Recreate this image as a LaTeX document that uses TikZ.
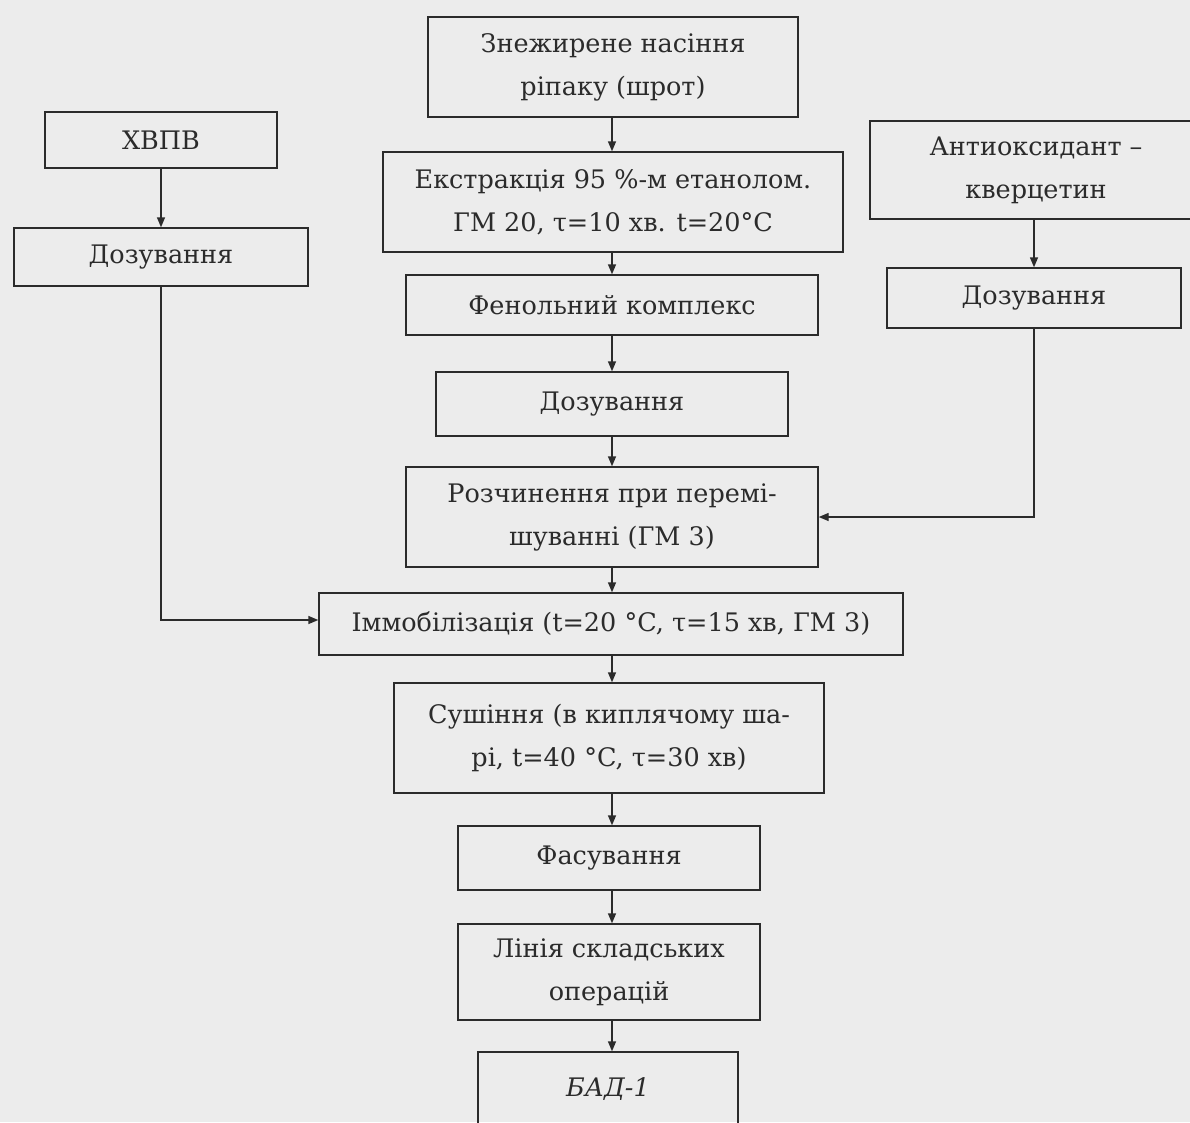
\documentclass[tikz,border=0pt]{standalone}
\usepackage{fontspec}
\setmainfont{DejaVu Serif}
\usetikzlibrary{arrows.meta}
\definecolor{ink}{HTML}{2B2B2B}
\definecolor{paper}{HTML}{ECECEC}
\tikzset{
  box/.style={draw=ink, line width=1.4pt, inner sep=0pt, align=center,
    text=ink, font=\fontsize{25.5}{43}\selectfont},
  arr/.style={draw=ink, line width=1.4pt, -{Triangle[length=10pt,width=8pt]}}
}
\begin{document}
\begin{tikzpicture}[x=1pt,y=-1pt]
\useasboundingbox (0,0) rectangle (1190,1122);
\fill[paper] (0,0) rectangle (1190,1122);
\clip (0,0) rectangle (1190,1122);
\coordinate (col) at (612,0);
% main column
\node[box, minimum width=370pt, minimum height=100pt] (src) at (613,67) {Знежирене насіння\\ріпаку (шрот)};
\node[box, minimum width=460pt, minimum height=100pt] (ext) at (613,202) {Екстракція 95 \%-м етанолом.\\ГМ 20, τ=10 хв. t=20°C};
\node[box, minimum width=412pt, minimum height=60pt] (phen) at (612,305) {Фенольний комплекс};
\node[box, minimum width=352pt, minimum height=64pt] (doz2) at (612,404) {Дозування};
\node[box, minimum width=412pt, minimum height=100pt] (rozch) at (612,517) {Розчинення при пере­мі-\\шуванні (ГМ 3)};
\node[box, minimum width=584pt, minimum height=62pt] (immob) at (611,624) {Іммобілізація (t=20 °C, τ=15 хв, ГМ 3)};
\node[box, minimum width=430pt, minimum height=110pt] (dry) at (609,738) {Сушіння (в киплячому ша-\\рі, t=40 °C, τ=30 хв)};
\node[box, minimum width=302pt, minimum height=64pt] (pack) at (609,858) {Фасування};
\node[box, minimum width=302pt, minimum height=96pt] (line) at (609,972) {Лінія складських\\операцій};
\node[box, minimum width=260pt, minimum height=74pt] (bad) at (608,1089) {\itshape БАД-1};
% left branch
\node[box, minimum width=232pt, minimum height=56pt] (hvpv) at (161,140) {ХВПВ};
\node[box, minimum width=294pt, minimum height=58pt] (doz1) at (161,257) {Дозування};
% right branch
\node[box, minimum width=332pt, minimum height=98pt] (anti) at (1036,170) {Антиоксидант –\\кверцетин};
\node[box, minimum width=294pt, minimum height=60pt] (doz3) at (1034,298) {Дозування};
% connectors
\draw[arr] (src.south -| col) -- (ext.north -| col);
\draw[arr] (ext.south -| col) -- (phen.north -| col);
\draw[arr] (phen.south -| col) -- (doz2.north -| col);
\draw[arr] (doz2.south -| col) -- (rozch.north -| col);
\draw[arr] (rozch.south -| col) -- (immob.north -| col);
\draw[arr] (immob.south -| col) -- (dry.north -| col);
\draw[arr] (dry.south -| col) -- (pack.north -| col);
\draw[arr] (pack.south -| col) -- (line.north -| col);
\draw[arr] (line.south -| col) -- (bad.north -| col);
\draw[arr] (hvpv.south) -- (doz1.north);
\draw[arr] (doz1.south) |- ([yshift=4pt]immob.west);
\draw[arr] (anti.south -| doz3) -- (doz3.north);
\draw[arr] (doz3.south) |- (rozch.east);
\end{tikzpicture}
\end{document}
